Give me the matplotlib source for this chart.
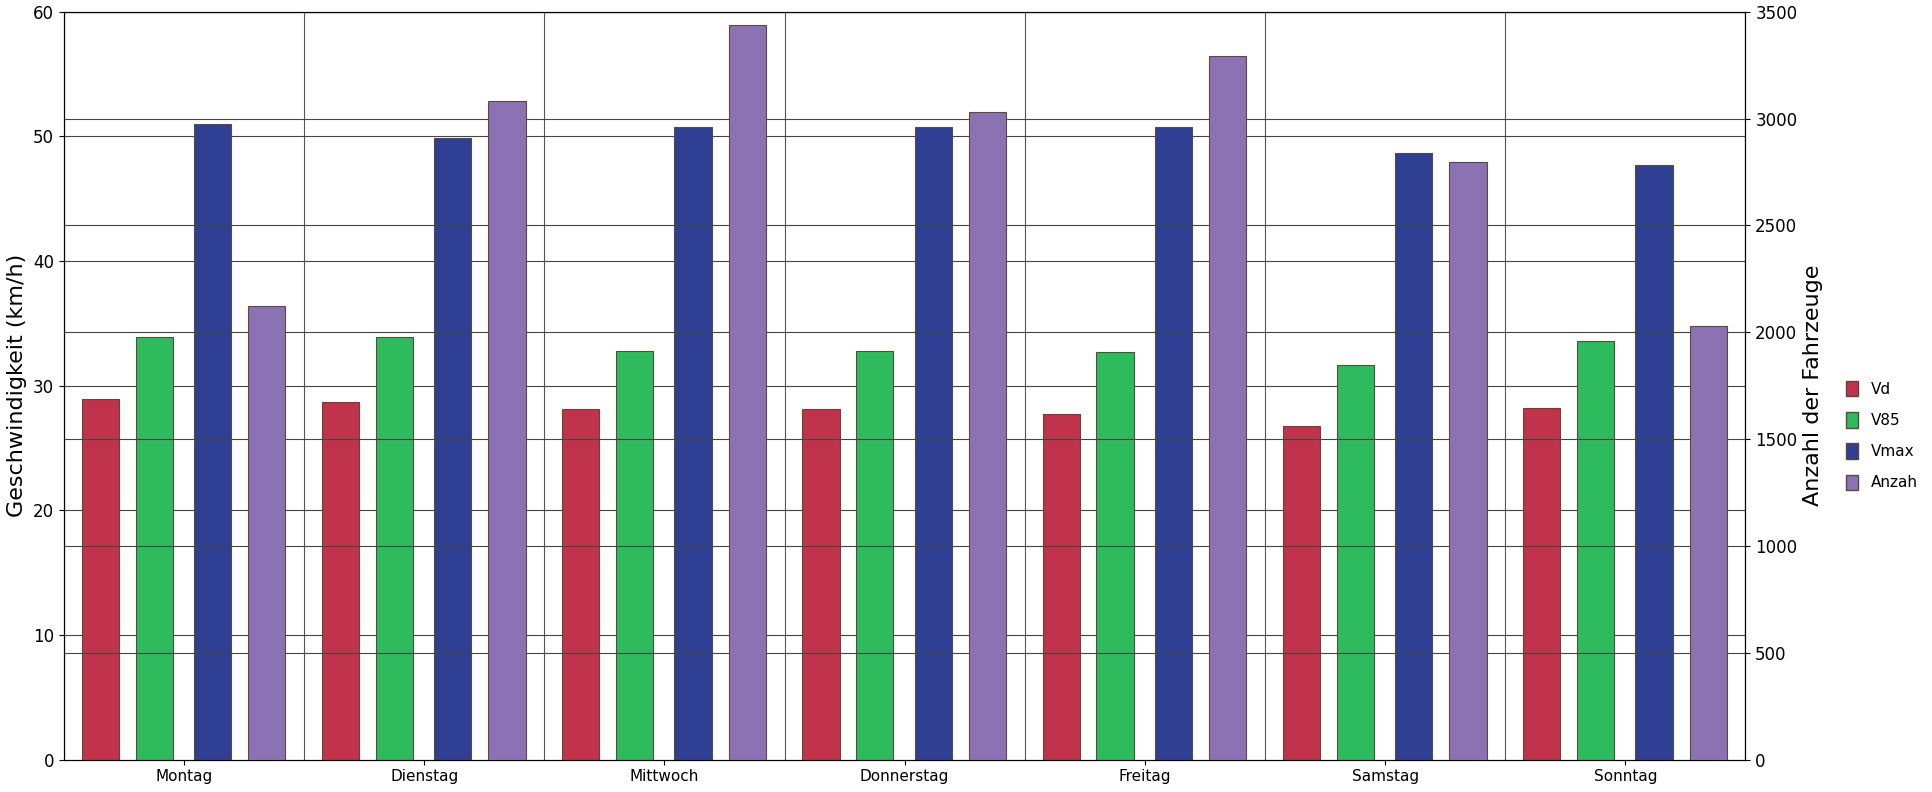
import numpy as np
import matplotlib.pyplot as plt
from matplotlib.patches import Patch

tage = ['Montag', 'Dienstag', 'Mittwoch', 'Donnerstag', 'Freitag', 'Samstag', 'Sonntag']
vd = [28.9, 28.7, 28.1, 28.1, 27.7, 26.8, 28.2]
v85 = [33.9, 33.9, 32.8, 32.8, 32.7, 31.7, 33.6]
vmax = [51.0, 49.9, 50.8, 50.8, 50.8, 48.7, 47.7]
anzahl = [2125, 3085, 3440, 3030, 3295, 2795, 2030]

farben = ['#c0334a', '#2dbb5d', '#2e3f94', '#8a72b3']
namen = ['Vd', 'V85', 'Vmax', 'Anzah']

fig = plt.figure(figsize=(19.33, 7.92), dpi=100)
ax = fig.add_axes([0.033, 0.041, 0.870, 0.944])
ax2 = ax.twinx()

x = np.arange(len(tage))
offs = [0.152, 0.376, 0.619, 0.845]
w = 0.155
for i, serie in enumerate([vd, v85, vmax]):
    ax.bar(x + offs[i], serie, w, color=farben[i], edgecolor='#5a4a3a', linewidth=0.8, zorder=3)
ax2.bar(x + offs[3], anzahl, w, color=farben[3], edgecolor='#5a4a3a', linewidth=0.8, zorder=3)

ax.set_xlim(0, 7)
ax.set_ylim(0, 60)
ax2.set_ylim(0, 3500)
ax.set_yticks(range(0, 61, 10))
ax2.set_yticks(range(0, 3501, 500))
ax.set_xticks(x + 0.5)
ax.set_xticklabels(tage, fontsize=11)
ax.tick_params(axis='y', labelsize=12)
ax2.tick_params(axis='y', labelsize=12)
for b in range(8):
    ax.axvline(b, color='#555555', lw=0.8, zorder=1)
for v in range(10, 61, 10):
    ax.axhline(v, color='#444444', lw=0.8, zorder=1)
for v in range(500, 3501, 500):
    ax2.axhline(v, color='#444444', lw=0.8, zorder=1)
ax.set_ylabel('Geschwindigkeit (km/h)', fontsize=16)
ax2.set_ylabel('Anzahl der Fahrzeuge', fontsize=16)

handles = [Patch(facecolor=c, edgecolor='#5a4a3a') for c in farben]
fig.legend(handles, namen, loc='center left', bbox_to_anchor=(0.948, 0.45),
           frameon=False, fontsize=11, handlelength=0.8, handleheight=1.2, labelspacing=1.0)

fig.savefig('out.png')
